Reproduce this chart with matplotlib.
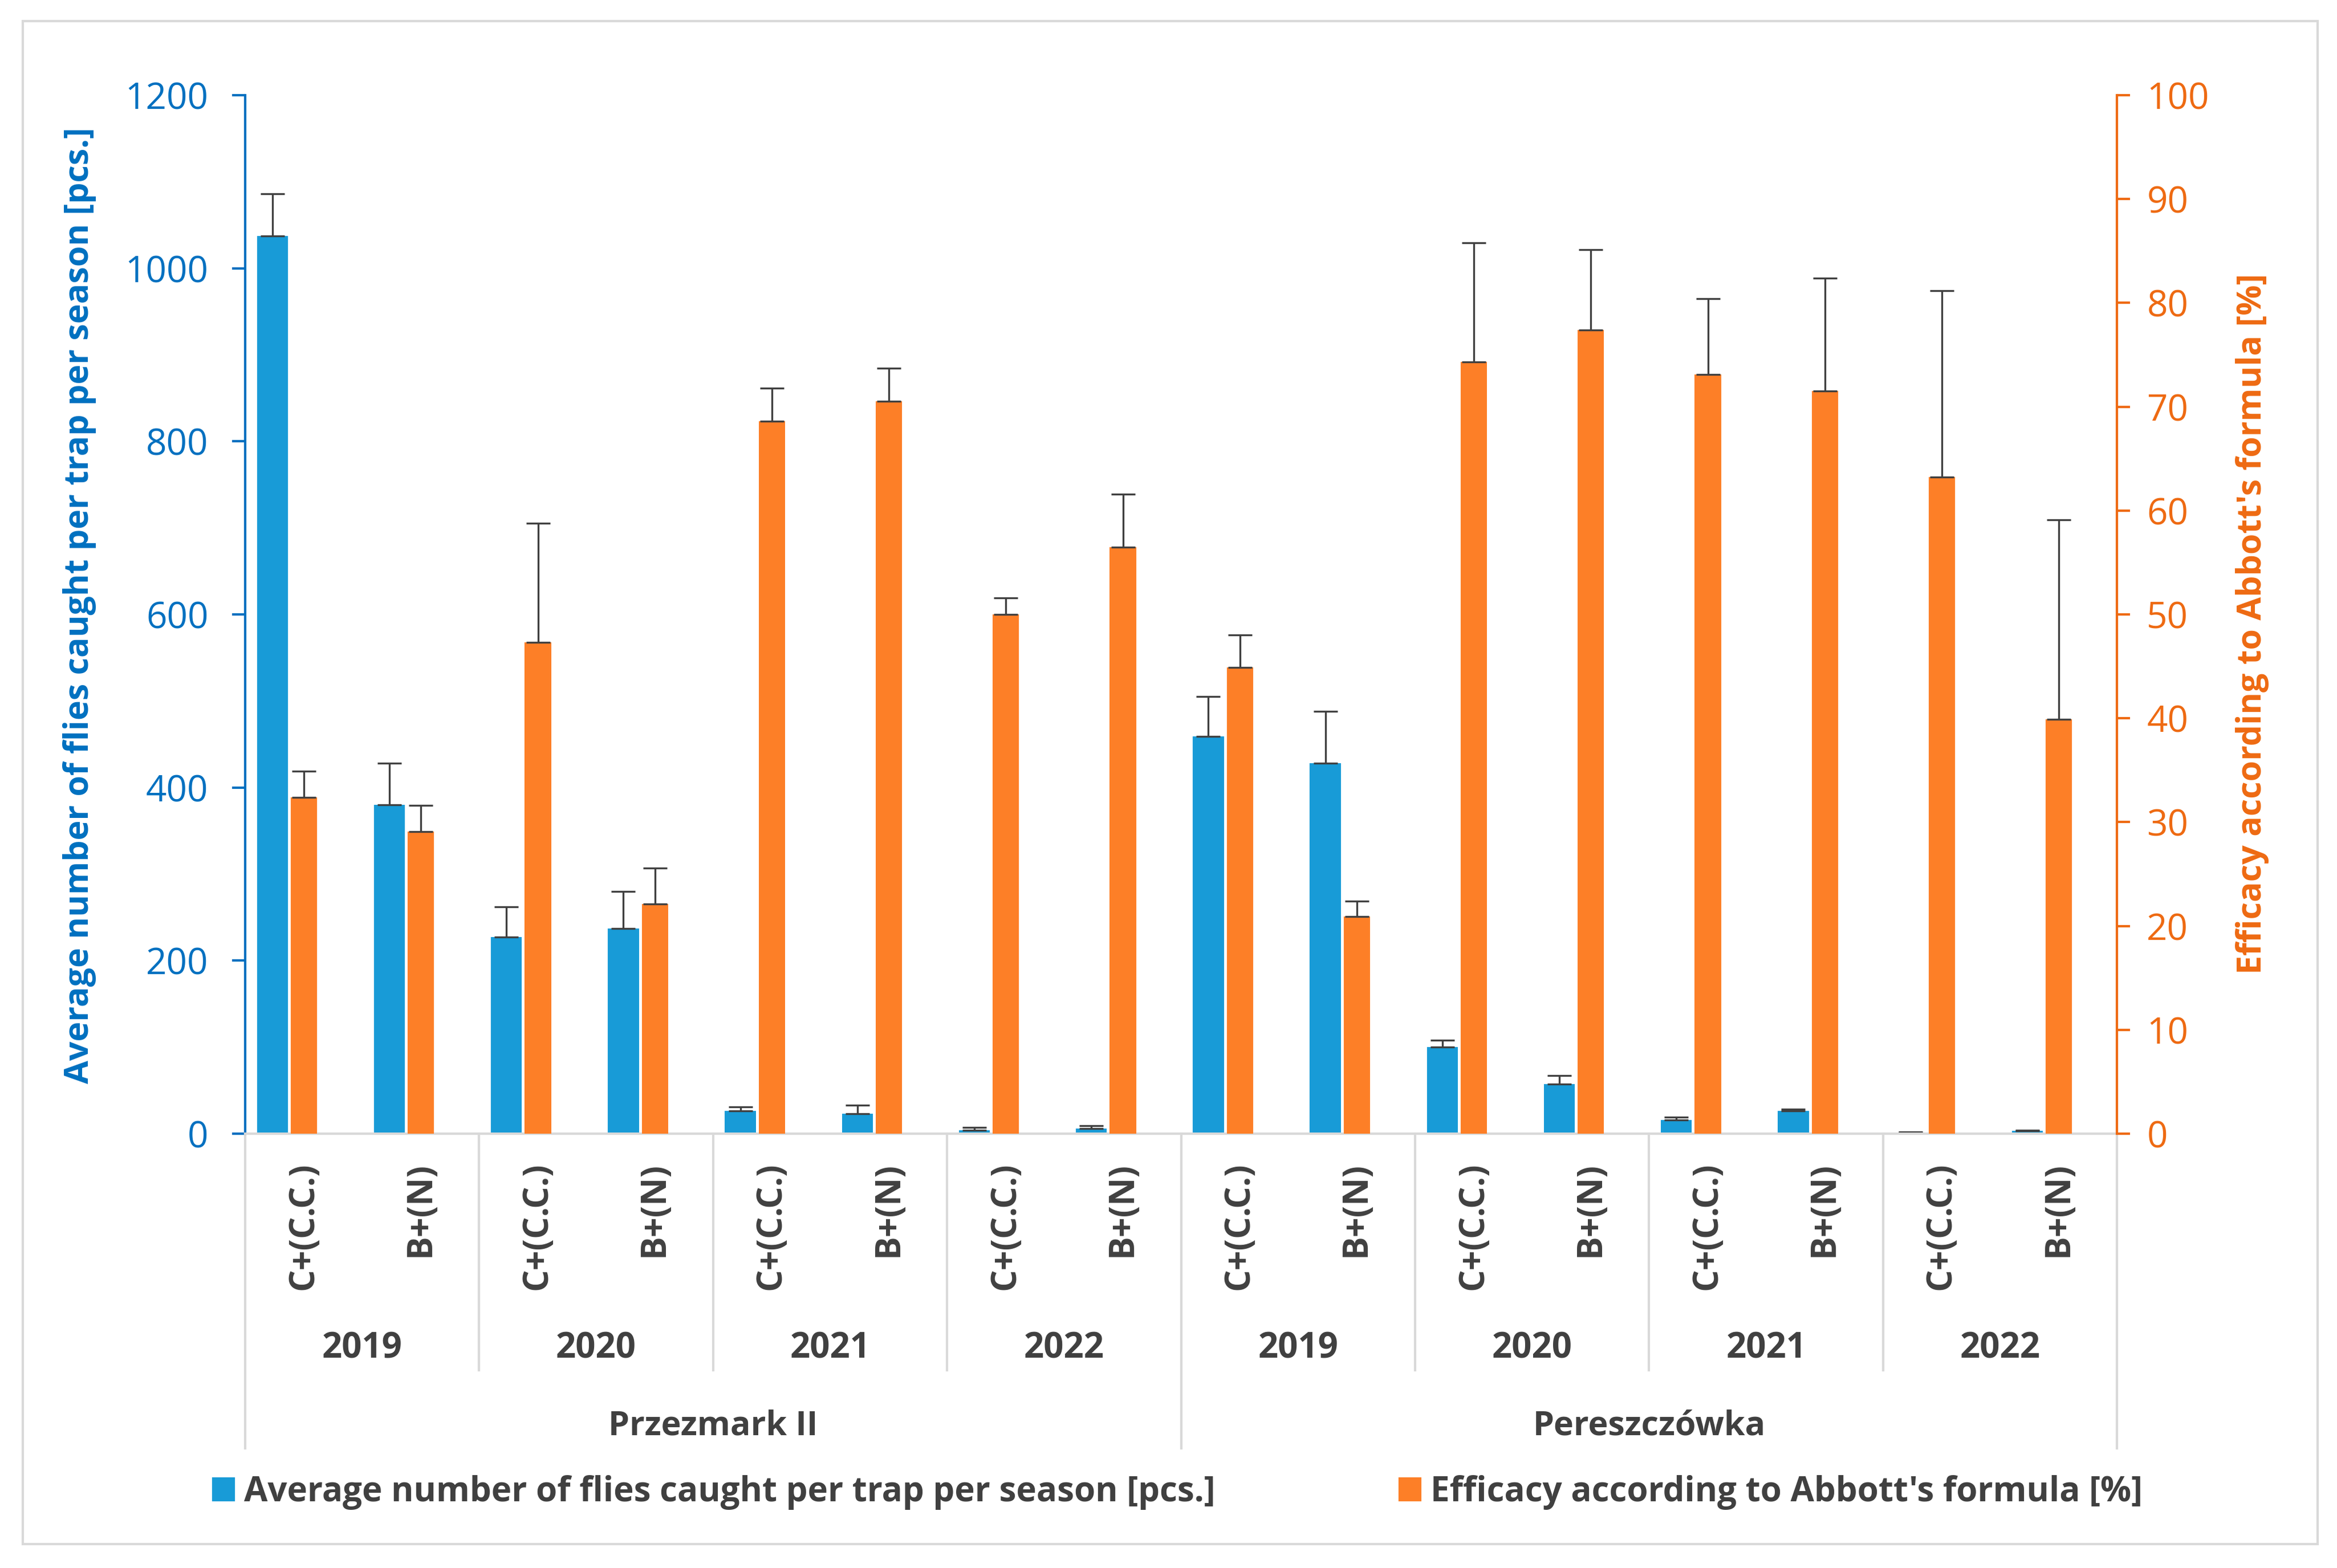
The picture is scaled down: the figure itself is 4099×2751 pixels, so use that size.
import numpy as np
import matplotlib.pyplot as plt
from matplotlib.patches import Patch, Rectangle

plt.rcParams['font.family'] = ['Open Sans', 'DejaVu Sans']

# Dati
localita = ["Przezmark II", "Pereszczówka"]
anni = ["2019", "2020", "2021", "2022"]
trattamenti = ["C+(C.C.)", "B+(N)"]

# numero medio di mosche per trappola [pcs.]
mosche = [1037, 380, 227, 237, 26, 23, 4, 6,
          459, 428, 100, 57, 16, 26, 1, 3]
mosche_err = [1086, 428, 262, 280, 31, 33, 7, 9,
              505, 488, 108, 67, 19, 28, 2, 4]

# efficacia Abbott [%]
efficacia = [32.4, 29.1, 47.3, 22.1, 68.6, 70.5, 50.0, 56.5,
             44.9, 20.9, 74.3, 77.4, 73.1, 71.5, 63.2, 39.9]
efficacia_err = [34.9, 31.6, 58.8, 25.6, 71.8, 73.7, 51.6, 61.6,
                 48.0, 22.4, 85.8, 85.1, 80.4, 82.4, 81.2, 59.1]

blu = '#189BD7'
arancio = '#FD7F27'
blu_asse = '#0070C0'
arancio_asse = '#EE6A12'
grigio = '#D9D9D9'
testo = '#404040'

n = len(mosche)
x = np.arange(n)
mosche = np.array(mosche)
efficacia = np.array(efficacia)
err1 = [np.zeros(n), np.array(mosche_err) - mosche]
err2 = [np.zeros(n), np.array(efficacia_err) - efficacia]

fig = plt.figure(figsize=(4099/300, 2751/300), dpi=300)
ax = fig.add_axes([0.1049, 0.277, 0.9059-0.1049, 0.9393-0.277])
ax2 = ax.twinx()

ax.bar(x + 0.2325, mosche, 0.265, color=blu, zorder=2,
       yerr=err1, error_kw=dict(ecolor=testo, elinewidth=0.8, capsize=5, capthick=0.8))
ax2.bar(x + 0.5025, efficacia, 0.225, color=arancio, zorder=2,
        yerr=err2, error_kw=dict(ecolor=testo, elinewidth=0.8, capsize=5, capthick=0.8))

ax.set_xlim(0, n)
ax.set_ylim(0, 1200)
ax2.set_ylim(0, 100)
ax.set_yticks(np.arange(0, 1201, 200))
ax2.set_yticks(np.arange(0, 101, 10))
ax.set_xticks([])

for s in ['top', 'right']:
    ax.spines[s].set_visible(False)
for s in ['top', 'left', 'bottom']:
    ax2.spines[s].set_visible(False)
ax.spines['left'].set_color(blu_asse)
ax.spines['left'].set_linewidth(1.0)
ax.spines['bottom'].set_color(grigio)
ax.spines['bottom'].set_linewidth(1.0)
ax2.spines['right'].set_color(arancio_asse)
ax2.spines['right'].set_linewidth(1.0)

ax.tick_params(axis='y', colors=blu_asse, labelsize=15.3, length=5.5, width=1.0, pad=10)
ax2.tick_params(axis='y', colors=arancio_asse, labelsize=15.3, length=5.5, width=1.0, pad=7)

ax.set_ylabel("Average number of flies caught per trap per season [pcs.]",
              color=blu_asse, fontsize=14.2, fontweight='bold')
ax.yaxis.set_label_coords(-0.0796, 0.5086)
ax2.set_ylabel("Efficacy according to Abbott's formula [%]",
               color=arancio_asse, fontsize=14.2, fontweight='bold', rotation=90)
ax2.yaxis.set_label_coords(1.0634, 0.4907)

# Asse categorie a più livelli
tr = ax.get_xaxis_transform()
for i in range(n):
    ax.text(i + 0.5, -0.0274, trattamenti[i % 2], transform=tr, rotation=90,
            ha='center', va='top', fontsize=14.6, fontweight='bold', color=testo)
for j in range(n // 2):
    ax.text(2*j + 1, -0.207, anni[j % 4], transform=tr, ha='center', va='center',
            fontsize=14.8, fontweight='bold', color=testo)
for k in range(2):
    ax.text(8*k + 4, -0.2815, localita[k], transform=tr, ha='center', va='center',
            fontsize=14.2, fontweight='bold', color=testo)
for xs in range(0, n + 1, 2):
    fondo = -0.303 if xs % 8 == 0 else -0.228
    ax.plot([xs, xs], [0, fondo], transform=tr, color=grigio, lw=1.0, clip_on=False)

handles = [Patch(color=blu), Patch(color=arancio)]
fig.legend(handles, ["Average number of flies caught per trap per season [pcs.]",
                     "Efficacy according to Abbott's formula [%]"],
           loc='center', bbox_to_anchor=(0.504, 0.048), ncol=2, frameon=False,
           handlelength=0.6, handleheight=0.6, handletextpad=0.3, columnspacing=5.4,
           prop=dict(size=14.4, weight='bold'), labelcolor=testo)

fig.patches.append(Rectangle((0.0098, 0.0153), 0.9917-0.0098, 0.9866-0.0153,
                             transform=fig.transFigure, fill=False,
                             edgecolor=grigio, lw=1.0))

fig.savefig('out.png', dpi=300, facecolor='white')
